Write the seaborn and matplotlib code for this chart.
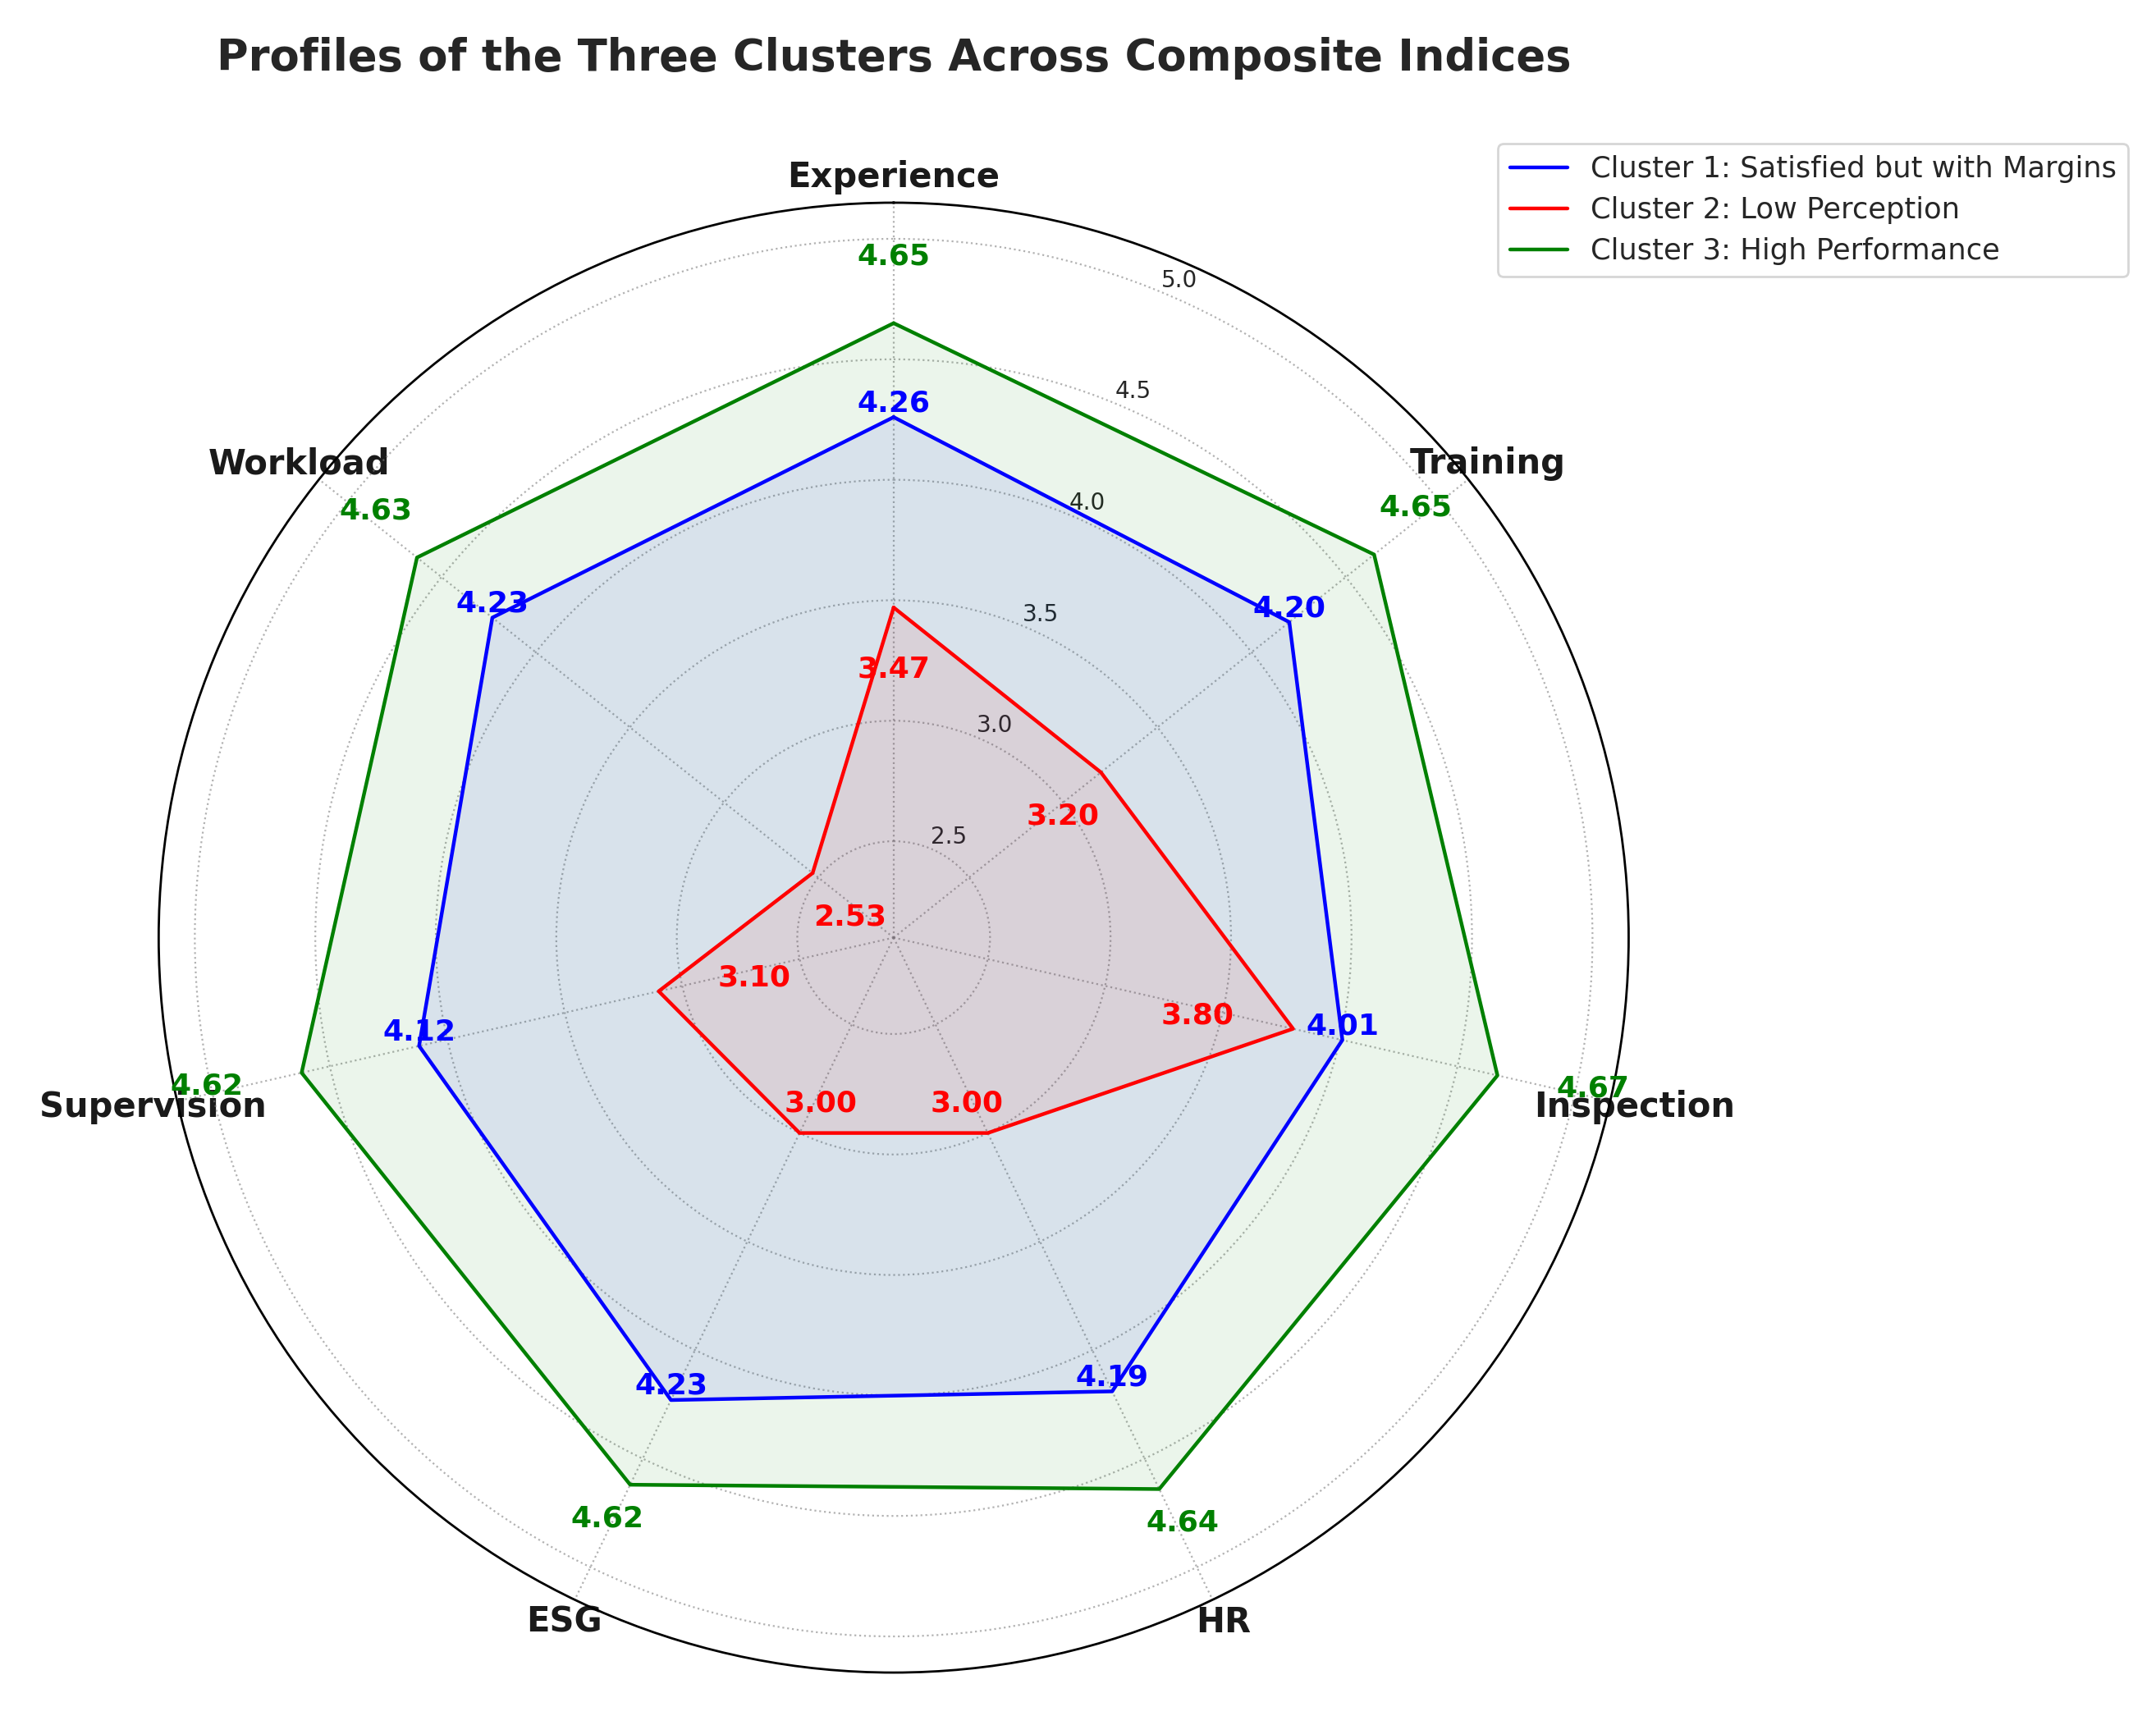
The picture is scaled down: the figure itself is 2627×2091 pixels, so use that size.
import numpy as np
import pandas as pd
import matplotlib
matplotlib.use("Agg")
import matplotlib.pyplot as plt
import seaborn as sns

# Dados
categories = ['Experience', 'Training', 'Inspection', 'HR', 'ESG', 'Supervision', 'Workload']
cluster_names = ['Cluster 1: Satisfied but with Margins',
                 'Cluster 2: Low Perception',
                 'Cluster 3: High Performance']
cluster1 = [4.26, 4.20, 4.01, 4.19, 4.23, 4.12, 4.23]
cluster2 = [3.47, 3.20, 3.80, 3.00, 3.00, 3.10, 2.53]
cluster3 = [4.65, 4.65, 4.67, 4.64, 4.62, 4.62, 4.63]
r_ticks = [2.5, 3.0, 3.5, 4.0, 4.5, 5.0]

colors = ['blue', 'red', 'green']
clusters = [cluster1, cluster2, cluster3]

sns.set_theme(style='whitegrid')

# Angulos
n = len(categories)
angles = np.linspace(0, 2 * np.pi, n, endpoint=False)
angles_closed = np.append(angles, 2 * np.pi)

# Dataframe longo para o lineplot
rows = []
for name, vals in zip(cluster_names, clusters):
    vals_closed = list(vals) + [vals[0]]
    for a, v in zip(angles_closed, vals_closed):
        rows.append({'angle': a, 'value': v, 'cluster': name})
df = pd.DataFrame(rows)

# Figura
fig = plt.figure(figsize=(13.135, 10.455), dpi=200)
ax = fig.add_axes([0.0736, 0.0253, 0.6818, 0.8566], projection='polar')
ax.set_theta_offset(np.pi / 2)
ax.set_theta_direction(-1)

sns.lineplot(data=df, x='angle', y='value', hue='cluster',
             palette=dict(zip(cluster_names, colors)),
             sort=False, estimator=None, linewidth=1.6, ax=ax)

for vals, c in zip(clusters, colors):
    ax.fill(angles_closed, list(vals) + [vals[0]], color=c, alpha=0.08)

ax.set_ylim(2.1, 5.15)
ax.set_yticks(r_ticks)
ax.set_yticklabels([f'{t:.1f}' for t in r_ticks], fontsize=10, color='.15')
ax.set_xticks(angles)
ax.set_xticklabels(categories, fontsize=15, fontweight='bold', color='#1a1a1a')
ax.tick_params(axis='x', pad=-2)
ax.set_xlabel('')
ax.set_ylabel('')
ax.grid(True, linestyle=':', color='gray', linewidth=0.8, alpha=0.6)
ax.spines['polar'].set_color('black')
ax.spines['polar'].set_linewidth(1.0)

# Textos dos valores
for i, (vals, c) in enumerate(zip(clusters, colors)):
    for a, v in zip(angles, vals):
        s = np.sin(a)
        lado = abs(s) > 0.9
        if i == 0:
            r, ha, va = v, 'center', 'bottom'
        elif i == 1:
            if lado:
                r, va = v - 0.25, 'center'
                ha = 'right' if s > 0 else 'left'
            else:
                r, ha, va = v - 0.2, 'center', 'top'
        else:
            if lado:
                r, va = v + 0.25, 'center'
                ha = 'left' if s > 0 else 'right'
            else:
                r, ha, va = v + 0.22, 'center', 'bottom'
        ax.text(a, r, f'{v:.2f}', color=c, fontsize=13, fontweight='bold',
                ha=ha, va=va)

handles, labels = ax.get_legend_handles_labels()
ax.legend(handles, labels, loc='upper right', bbox_to_anchor=(1.34, 1.04),
          borderaxespad=0, fontsize=12.7, labelspacing=0.45, frameon=True)

ax.set_title('Profiles of the Three Clusters Across Composite Indices',
             fontsize=19, fontweight='bold', color='.15', y=1.09, pad=0)

fig.savefig('out.png', dpi=200)
